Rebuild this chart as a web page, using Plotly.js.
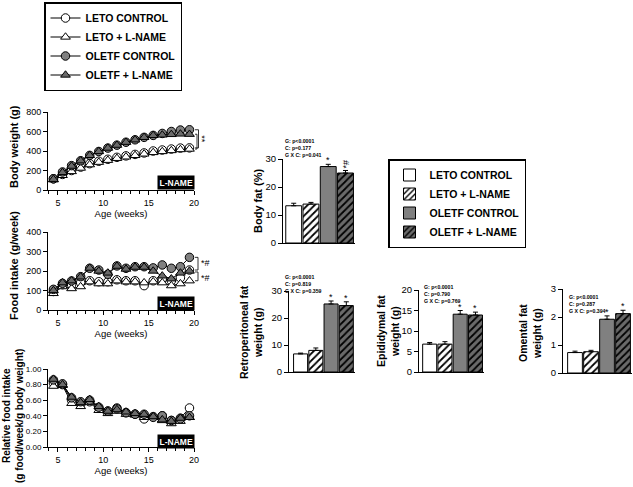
<!DOCTYPE html>
<html>
<head>
<meta charset="utf-8">
<script src="https://cdn.plot.ly/plotly-3.0.1.min.js"></script>
<style>html,body{margin:0;padding:0;background:#fff}#chart{width:633px;height:487px}</style>
</head>
<body>
<div id="chart"></div>
<script>
// ---------- DATA ----------
const groups = ['LETO CONTROL', 'LETO + L-NAME', 'OLETF CONTROL', 'OLETF + L-NAME'];
const weeks = [4.5, 5.5, 6.5, 7.5, 8.5, 9.5, 10.5, 11.5, 12.5, 13.5, 14.5, 15.5, 16.5, 17.5, 18.5, 19.5];

// Body weight (g)
const bwLetoCtrl  = [115, 160, 200, 235, 270, 295, 315, 335, 350, 365, 380, 400, 410, 420, 430, 432];
const bwLetoLN    = [105, 150, 190, 225, 260, 285, 305, 325, 340, 355, 370, 385, 395, 405, 415, 420];
const bwOletfCtrl = [115, 185, 250, 300, 355, 395, 430, 460, 490, 515, 540, 560, 580, 600, 615, 618];
const bwOletfLN   = [110, 180, 245, 300, 355, 395, 430, 460, 490, 515, 540, 560, 565, 570, 575, 572];

// Food intake (g/week)
const fiLetoCtrl  = [95, 130, 130, 140, 150, 145, 145, 155, 150, 150, 125, 150, 160, 150, 165, 205];
const fiLetoLN    = [85, 120, 110, 120, 145, 135, 135, 150, 145, 145, 140, 145, 140, 125, 135, 150];
const fiOletfCtrl = [106, 137, 149, 171, 214, 205, 183, 226, 214, 222, 222, 216, 231, 214, 222, 270];
const fiOletfLN   = [100, 140, 150, 170, 215, 200, 190, 225, 210, 220, 220, 200, 175, 160, 190, 200];

// Relative food intake (g food/week/g body weight)
const rfLetoCtrl  = [0.82, 0.80, 0.60, 0.55, 0.58, 0.50, 0.46, 0.50, 0.44, 0.42, 0.36, 0.39, 0.40, 0.34, 0.37, 0.50];
const rfLetoLN    = [0.78, 0.79, 0.56, 0.52, 0.57, 0.47, 0.43, 0.46, 0.42, 0.41, 0.38, 0.38, 0.34, 0.30, 0.33, 0.38];
const rfOletfCtrl = [0.86, 0.81, 0.63, 0.58, 0.60, 0.51, 0.46, 0.49, 0.44, 0.42, 0.42, 0.38, 0.40, 0.34, 0.36, 0.40];
const rfOletfLN   = [0.87, 0.80, 0.64, 0.57, 0.61, 0.52, 0.46, 0.48, 0.45, 0.43, 0.42, 0.39, 0.35, 0.33, 0.37, 0.38];

// Bar panels (mean, SEM) in group order
const bodyFat       = [13.3, 13.9, 27.3, 25.0];
const bodyFatErr    = [0.9, 0.6, 0.8, 0.9];
const retroFat      = [6.7, 8.0, 25.2, 24.6];
const retroFatErr   = [0.3, 0.9, 1.1, 1.4];
const epidFat       = [6.8, 6.8, 14.1, 13.9];
const epidFatErr    = [0.4, 0.6, 0.9, 0.7];
const omentalFat    = [0.73, 0.76, 1.92, 2.12];
const omentalFatErr = [0.05, 0.05, 0.12, 0.12];

const statsBodyFat = ['G: p<0.0001', 'C: p=0.177', 'G X C: p=0.041'];
const statsRetro   = ['G: p<0.0001', 'C: p=0.819', 'G X C: p=0.359'];
const statsEpid    = ['G: p<0.0001', 'C: p=0.790', 'G X C: p=0.769'];
const statsOmental = ['G: p<0.0001', 'C: p=0.287', 'G X C: p=0.394'];

const xTicks = [5, 10, 15, 20];
const xMinorTicks = [4, 6, 7, 8, 9, 11, 12, 13, 14, 16, 17, 18, 19];

// ---------- LAYOUT HELPERS ----------
const W = 633, H = 487;
const px = v => v / W;
const py = v => 1 - v / H;
const FONT = 'Liberation Sans, Arial, Helvetica, sans-serif';

const lineStyles = [
  {symbol: 'circle', color: '#ffffff'},
  {symbol: 'triangle-up', color: '#ffffff'},
  {symbol: 'circle', color: '#808080'},
  {symbol: 'triangle-up', color: '#6a6a6a'}
];
const barStyles = [
  {color: '#ffffff', shape: '', fg: '#000', bg: '#ffffff'},
  {color: '#ffffff', shape: '/', fg: '#000', bg: '#ffffff'},
  {color: '#808080', shape: '', fg: '#000', bg: '#808080'},
  {color: '#666666', shape: '/', fg: '#000', bg: '#6a6a6a'}
];

const traces = [];
const linePanels = [
  {series: [bwLetoCtrl, bwLetoLN, bwOletfCtrl, bwOletfLN], xa: 'x', ya: 'y'},
  {series: [fiLetoCtrl, fiLetoLN, fiOletfCtrl, fiOletfLN], xa: 'x2', ya: 'y2'},
  {series: [rfLetoCtrl, rfLetoLN, rfOletfCtrl, rfOletfLN], xa: 'x3', ya: 'y3'}
];
linePanels.forEach((p, pi) => {
  p.series.forEach((vals, g) => {
    traces.push({
      type: 'scatter', mode: 'lines+markers', x: weeks, y: vals,
      xaxis: p.xa, yaxis: p.ya, name: groups[g],
      showlegend: pi === 0, legend: 'legend',
      line: {color: '#000', width: 1},
      marker: {symbol: lineStyles[g].symbol, size: 8.5, color: lineStyles[g].color, line: {color: '#000', width: 1}},
      cliponaxis: false, hoverinfo: 'skip'
    });
  });
});

const barPanels = [
  {vals: bodyFat, err: bodyFatErr, xa: 'x4', ya: 'y4'},
  {vals: retroFat, err: retroFatErr, xa: 'x5', ya: 'y5'},
  {vals: epidFat, err: epidFatErr, xa: 'x6', ya: 'y6'},
  {vals: omentalFat, err: omentalFatErr, xa: 'x7', ya: 'y7'}
];
barPanels.forEach((p, pi) => {
  groups.forEach((gname, g) => {
    traces.push({
      type: 'bar', x: [gname], y: [p.vals[g]], xaxis: p.xa, yaxis: p.ya,
      name: gname, showlegend: pi === 0, legend: 'legend2',
      marker: {color: barStyles[g].color, line: {color: '#000', width: 1},
        pattern: {shape: barStyles[g].shape, fgcolor: barStyles[g].fg, bgcolor: barStyles[g].bg, size: 5, solidity: 0.35, fillmode: 'replace'}},
      error_y: {type: 'data', symmetric: false, array: [p.err[g]], arrayminus: [0], color: '#000', thickness: 1, width: 2.5},
      hoverinfo: 'skip'
    });
  });
});

// axes
function lineX(anchor) {
  return {domain: [px(48), px(194)], anchor: anchor, range: [3.9, 20], showline: true, linecolor: '#000', linewidth: 1,
    ticks: 'outside', ticklen: 4, tickwidth: 1, tickcolor: '#000', tickvals: xTicks, showgrid: false, zeroline: false,
    tickfont: {size: 9, family: FONT, color: '#000'},
    minor: {tickvals: xMinorTicks, ticks: 'outside', ticklen: 2.5, tickwidth: 1, tickcolor: '#000', showgrid: false},
    title: {text: 'Age (weeks)', font: {size: 9.5, family: FONT, color: '#000'}, standoff: 0}};
}
function lineY(anchor, top, bot, range, dtick, fmt, fs) {
  return {domain: [py(bot), py(top)], anchor: anchor, range: range, dtick: dtick, tick0: 0, tickformat: fmt,
    showline: true, linecolor: '#000', linewidth: 1, ticks: 'outside', ticklen: 4, tickwidth: 1, tickcolor: '#000',
    showgrid: false, zeroline: false, tickfont: {size: fs, family: FONT, color: '#000'}};
}
function barX(anchor, l, r, range) {
  return {domain: [px(l), px(r)], anchor: anchor, type: 'category', categoryorder: 'array', categoryarray: groups,
    range: range, showline: true, linecolor: '#000', linewidth: 1, ticks: '', showticklabels: false, showgrid: false, zeroline: false};
}
function barY(anchor, top, bot, range, dtick) {
  return {domain: [py(bot), py(top)], anchor: anchor, range: range, dtick: dtick, tick0: 0,
    showline: true, linecolor: '#000', linewidth: 1, ticks: 'outside', ticklen: 4, tickwidth: 1, tickcolor: '#000',
    showgrid: false, zeroline: false, tickfont: {size: 9.5, family: FONT, color: '#000'}};
}

const annotations = [];
function ann(o) { annotations.push(Object.assign({showarrow: false, font: {family: FONT, size: 10, color: '#000'}}, o)); }

// y-axis titles (rotated)
const boldTitle = (t, size) => ({text: t, font: {family: FONT, size: size, color: '#000', weight: 'bold'}});
const rot = {xref: 'paper', yref: 'paper', textangle: -90, xanchor: 'center', yanchor: 'middle'};
ann(Object.assign(boldTitle('Body weight (g)', 11), {x: px(14), y: py(147)}, rot));
ann(Object.assign(boldTitle('Food intake (g/week)', 11), {x: px(14), y: py(266)}, rot));
ann(Object.assign(boldTitle('Relative food intake<br>(g food/week/g body weight)', 10), {x: px(13), y: py(416)}, rot));
ann(Object.assign(boldTitle('Body fat (%)', 11), {x: px(258), y: py(201)}, rot));
ann(Object.assign(boldTitle('Retroperitoneal fat<br>weight (g)', 10.5), {x: px(251), y: py(332)}, rot));
ann(Object.assign(boldTitle('Epididymal fat<br>weight (g)', 10.5), {x: px(388), y: py(331)}, rot));
ann(Object.assign(boldTitle('Omental fat<br>weight (g)', 10.5), {x: px(530), y: py(333)}, rot));

// L-NAME tags
[182, 303.5, 441].forEach(yy => {
  ann({text: '<b>L-NAME</b>', x: px(176), y: py(yy), xref: 'paper', yref: 'paper', xanchor: 'center', yanchor: 'middle',
    bgcolor: '#000', borderpad: 1.5, font: {family: FONT, size: 8.5, color: '#fff'}});
});

// stats text
[[statsBodyFat, 283, 136], [statsRetro, 283, 272], [statsEpid, 422, 282], [statsOmental, 567, 292]].forEach(([s, x, y]) => {
  ann({text: '<b>' + s.join('<br>') + '</b>', x: px(x), y: py(y), xref: 'paper', yref: 'paper', xanchor: 'left', yanchor: 'top', align: 'left',
    font: {family: FONT, size: 5.2, color: '#000'}});
});

// significance marks above bars
barPanels.forEach((p, pi) => {
  [2, 3].forEach(g => {
    const r = (pi === 0 && g === 3);
    ann({text: r ? '*#' : '*', x: groups[g], y: p.vals[g] + p.err[g], xref: p.xa, yref: p.ya,
      xanchor: 'center', yanchor: 'bottom', textangle: r ? -90 : 0, yshift: r ? 0 : -3,
      font: {family: FONT, size: 9, color: '#000'}});
  });
});

// significance brackets on line panels
const shapes = [];
function bracket(ya, x0, x1, yTop, yBot) {
  shapes.push({type: 'path', xref: 'paper', yref: ya,
    path: `M${px(x0)},${yTop} L${px(x1)},${yTop} L${px(x1)},${yBot} L${px(x0)},${yBot}`,
    line: {color: '#000', width: 0.8}});
}
bracket('y', 195, 198.5, bwOletfCtrl[15], bwLetoCtrl[15]);
bracket('y', 195, 197, bwOletfLN[15], bwLetoLN[15]);
ann({text: '**', x: px(202), y: 520, xref: 'paper', yref: 'y', xanchor: 'center', yanchor: 'middle', textangle: 90,
  font: {family: FONT, size: 9, color: '#000'}});
bracket('y2', 195, 198, fiOletfCtrl[15], fiLetoCtrl[15]);
bracket('y2', 195, 198, fiOletfLN[15] - 5, fiLetoLN[15]);
ann({text: '*#', x: px(199), y: 241, xref: 'paper', yref: 'y2', xanchor: 'left', yanchor: 'middle', font: {family: FONT, size: 9, color: '#000'}});
ann({text: '*#', x: px(199), y: 165, xref: 'paper', yref: 'y2', xanchor: 'left', yanchor: 'middle', font: {family: FONT, size: 9, color: '#000'}});

const layout = {
  width: W, height: H, margin: {l: 0, r: 0, t: 0, b: 0},
  paper_bgcolor: '#fff', plot_bgcolor: 'rgba(0,0,0,0)',
  font: {family: FONT, color: '#000'},
  barmode: 'overlay', bargap: 0.08,
  xaxis: lineX('y'), yaxis: lineY('x', 112, 190, [0, 800], 200, '', 9),
  xaxis2: lineX('y2'), yaxis2: lineY('x2', 232, 310, [0, 400], 100, '', 9),
  xaxis3: lineX('y3'), yaxis3: lineY('x3', 369, 447, [0, 1], 0.2, '.2f', 8),
  xaxis4: barX('y4', 283, 355, [-0.62, 3.55]), yaxis4: barY('x4', 159, 243, [0, 30], 10),
  xaxis5: barX('y5', 289, 355, [-0.76, 3.57]), yaxis5: barY('x5', 291, 372, [0, 30], 10),
  xaxis6: barX('y6', 419, 484, [-0.7, 3.56]), yaxis6: barY('x6', 290, 372, [0, 20], 5),
  xaxis7: barX('y7', 563, 632, [-0.75, 3.56]), yaxis7: barY('x7', 289, 373, [0, 3], 1),
  legend: {x: px(44), y: py(2), xanchor: 'left', yanchor: 'top', bordercolor: '#000', borderwidth: 1.5, bgcolor: '#fff',
    font: {family: FONT, size: 10.5, color: '#000', weight: 'bold'}, itemsizing: 'trace', tracegroupgap: 0},
  legend2: {x: px(388), y: py(159), xanchor: 'left', yanchor: 'top', bordercolor: '#000', borderwidth: 1.5, bgcolor: '#fff',
    font: {family: FONT, size: 10.5, color: '#000', weight: 'bold'}, tracegroupgap: 0},
  annotations: annotations, shapes: shapes
};

Plotly.newPlot('chart', traces, layout, {staticPlot: true, displayModeBar: false});
</script>
</body>
</html>
